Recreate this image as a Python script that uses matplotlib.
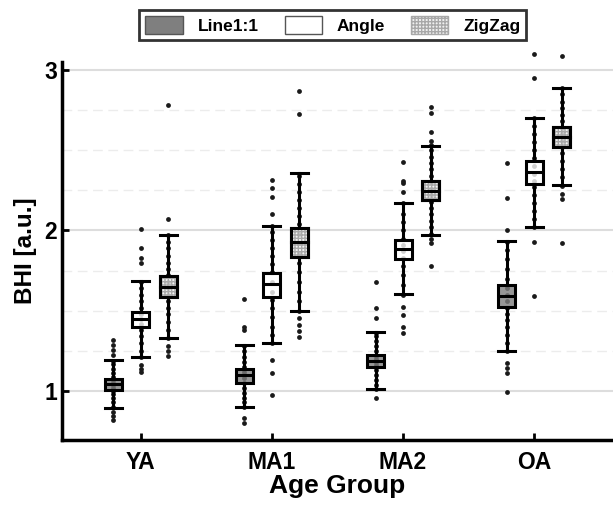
import numpy as np
import matplotlib
matplotlib.use('Agg')
from matplotlib import pyplot as plt
from matplotlib.patches import Rectangle, Patch

plt.rcParams['font.family'] = 'Liberation Sans'
plt.rcParams['font.weight'] = 'bold'

groups = ['YA', 'MA1', 'MA2', 'OA']
methods = ['Line1:1', 'Angle', 'ZigZag']

# box statistics per method, one value per age group
line_whislo = [0.894, 0.900, 1.012, 1.249]
line_q1 = [1.006, 1.050, 1.150, 1.523]
line_med = [1.044, 1.100, 1.187, 1.592]
line_q3 = [1.075, 1.137, 1.224, 1.660]
line_whishi = [1.193, 1.287, 1.368, 1.935]

angle_whislo = [1.212, 1.299, 1.604, 2.022]
angle_q1 = [1.399, 1.586, 1.822, 2.290]
angle_med = [1.449, 1.667, 1.885, 2.364]
angle_q3 = [1.492, 1.735, 1.941, 2.433]
angle_whishi = [1.685, 2.028, 2.171, 2.701]

zig_whislo = [1.330, 1.498, 1.972, 2.283]
zig_q1 = [1.586, 1.835, 2.190, 2.520]
zig_med = [1.648, 1.928, 2.246, 2.583]
zig_q3 = [1.717, 2.016, 2.308, 2.645]
zig_whishi = [1.972, 2.358, 2.526, 2.888]

# individual subject values
line_pts = [
    [0.82, 0.844, 0.87, 0.90, 0.93, 0.96, 0.98, 1.00, 1.02, 1.04, 1.05, 1.07, 1.09, 1.11, 1.14, 1.17, 1.19, 1.224, 1.255, 1.287, 1.318],
    [0.80, 0.832, 0.90, 0.93, 0.96, 0.99, 1.02, 1.05, 1.08, 1.10, 1.12, 1.15, 1.18, 1.21, 1.25, 1.28, 1.38, 1.399, 1.573],
    [0.956, 1.01, 1.04, 1.07, 1.10, 1.13, 1.16, 1.18, 1.20, 1.22, 1.25, 1.28, 1.31, 1.34, 1.36, 1.455, 1.517, 1.679],
    [0.994, 1.112, 1.143, 1.174, 1.25, 1.30, 1.35, 1.40, 1.44, 1.48, 1.52, 1.56, 1.60, 1.64, 1.70, 1.76, 1.82, 1.88, 1.93, 2.003, 2.202, 2.421],
]
angle_pts = [
    [1.118, 1.137, 1.162, 1.21, 1.25, 1.30, 1.34, 1.38, 1.42, 1.45, 1.48, 1.52, 1.56, 1.60, 1.64, 1.68, 1.798, 1.829, 1.891, 2.009],
    [0.975, 1.112, 1.193, 1.30, 1.35, 1.40, 1.46, 1.52, 1.57, 1.62, 1.68, 1.74, 1.79, 1.84, 1.89, 1.94, 1.99, 2.03, 2.103, 2.209, 2.265, 2.315],
    [1.361, 1.399, 1.474, 1.523, 1.60, 1.66, 1.72, 1.78, 1.83, 1.87, 1.91, 1.95, 2.00, 2.05, 2.10, 2.17, 2.240, 2.296, 2.308, 2.427],
    [1.592, 1.928, 2.02, 2.07, 2.12, 2.17, 2.22, 2.27, 2.31, 2.35, 2.40, 2.45, 2.50, 2.55, 2.60, 2.65, 2.70, 2.95, 3.10],
]
zig_pts = [
    [1.218, 1.25, 1.28, 1.33, 1.38, 1.43, 1.48, 1.52, 1.56, 1.60, 1.64, 1.68, 1.72, 1.76, 1.80, 1.84, 1.89, 1.93, 1.97, 2.072, 2.782],
    [1.336, 1.374, 1.411, 1.455, 1.50, 1.56, 1.62, 1.68, 1.74, 1.80, 1.86, 1.92, 1.98, 2.04, 2.09, 2.14, 2.19, 2.24, 2.29, 2.34, 2.726, 2.869],
    [1.779, 1.922, 1.95, 1.98, 2.02, 2.06, 2.10, 2.14, 2.18, 2.22, 2.26, 2.30, 2.34, 2.38, 2.42, 2.46, 2.50, 2.53, 2.558, 2.614, 2.732, 2.769],
    [1.922, 2.196, 2.227, 2.28, 2.33, 2.38, 2.43, 2.48, 2.52, 2.56, 2.60, 2.64, 2.68, 2.72, 2.76, 2.80, 2.85, 2.89, 3.087],
]

stats_all = [
    (line_whislo, line_q1, line_med, line_q3, line_whishi, line_pts, '#7f7f7f', None),
    (angle_whislo, angle_q1, angle_med, angle_q3, angle_whishi, angle_pts, '#ffffff', None),
    (zig_whislo, zig_q1, zig_med, zig_q3, zig_whishi, zig_pts, '#f0f0f0', '+++++'),
]

fig = plt.figure(figsize=(6.13, 5.07), dpi=100)
ax = fig.add_axes([0.101, 0.132, 0.899, 0.746])

offsets = [-0.21, 0.0, 0.21]
w = 0.13
xc = np.arange(1, len(groups) + 1)

for k, (wl, q1, md, q3, wh, pts, fc, hatch) in enumerate(stats_all):
    pos = xc + offsets[k]
    for i in range(len(groups)):
        ax.scatter(np.full(len(pts[i]), pos[i]), pts[i], s=12, color='#1a1a1a',
                   zorder=2, clip_on=False, linewidths=0)
    bstats = [dict(whislo=wl[i], q1=q1[i], med=md[i], q3=q3[i], whishi=wh[i], fliers=[])
              for i in range(len(groups))]
    r, g, b = matplotlib.colors.to_rgb(fc)
    bp = ax.bxp(bstats, positions=pos, widths=w, patch_artist=True, showfliers=False,
                boxprops=dict(facecolor=(r, g, b, 0.8), edgecolor='black', linewidth=2.2),
                medianprops=dict(color='black', linewidth=2.2),
                whiskerprops=dict(color='black', linewidth=2.2),
                capprops=dict(color='black', linewidth=2.2), capwidths=w,
                manage_ticks=False, zorder=3)
    if hatch:
        for i in range(len(groups)):
            ax.add_patch(Rectangle((pos[i] - w / 2, q1[i]), w, q3[i] - q1[i], facecolor='none',
                                   edgecolor='#a8a8a8', hatch=hatch, linewidth=0, zorder=3.5))
            ax.plot([pos[i] - w / 2, pos[i] + w / 2], [md[i], md[i]], color='black', lw=2.2, zorder=4)
            ax.add_patch(Rectangle((pos[i] - w / 2, q1[i]), w, q3[i] - q1[i], facecolor='none',
                                   edgecolor='black', linewidth=2.2, zorder=4))

ax.set_xlim(0.4, 4.6)
ax.set_ylim(0.695, 3.05)
ax.set_yticks([1, 2, 3])
ax.set_yticks([1.25, 1.5, 1.75, 2.25, 2.5, 2.75], minor=True)
ax.set_xticks(xc)
ax.set_xticklabels(groups)
ax.grid(axis='y', which='major', color='#dddddd', linewidth=1.5, zorder=0)
ax.grid(axis='y', which='minor', color='#ececec', linewidth=1, linestyle=(0, (7, 4)), zorder=0)
ax.set_axisbelow(True)
ax.tick_params(axis='both', which='major', direction='in', length=5, width=2, labelsize=16.5)
ax.tick_params(axis='y', which='minor', length=0)
ax.tick_params(axis='x', pad=8)
for s in ['top', 'right']:
    ax.spines[s].set_visible(False)
for s in ['left', 'bottom']:
    ax.spines[s].set_linewidth(2.5)

ax.set_xlabel('Age Group', fontsize=19, fontweight='bold', labelpad=0)
ax.set_ylabel('BHI [a.u.]', fontsize=17.5, fontweight='bold', labelpad=5)

handles = [Patch(facecolor='#7f7f7f', edgecolor='#555555', label='Line1:1'),
           Patch(facecolor='white', edgecolor='#555555', label='Angle'),
           Patch(facecolor='#f0f0f0', edgecolor='#a8a8a8', hatch='+++++', label='ZigZag')]
leg = fig.legend(handles=handles, loc='center', bbox_to_anchor=(0.543, 0.951), ncol=3,
                 frameon=True, fancybox=False, edgecolor='black',
                 handlelength=2.15, handleheight=1.2, columnspacing=1.5, handletextpad=0.85,
                 borderpad=0.35, prop={'weight': 'bold', 'size': 12.5})
leg.get_frame().set_linewidth(2)

fig.savefig('out.png', dpi=100)
